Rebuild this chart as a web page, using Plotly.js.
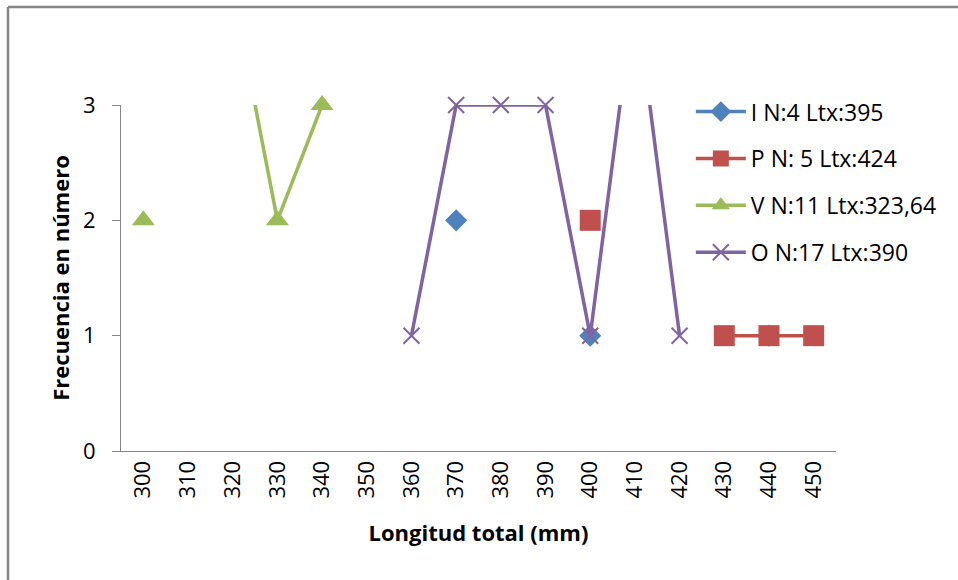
<!DOCTYPE html>
<html>
<head>
<meta charset="utf-8">
<script src="https://cdn.plot.ly/plotly-3.0.1.min.js"></script>
<style>
  html, body { margin: 0; padding: 0; background: #fff; }
  #chart { width: 958px; height: 580px; }
</style>
</head>
<body>
<div id="chart"></div>
<script>
// Length classes (mm) on the category axis
const lengths = ['300','310','320','330','340','350','360','370','380','390','400','410','420','430','440','450'];

// Frequency per length class for each group (null = no fish in that class)
const freqI = [null, null, null, null, null, null, null, 2, null, null, 1, null, null, null, 1, null];
const freqP = [null, null, null, null, null, null, null, null, null, null, 2, null, null, 1, 1, 1];
const freqV = [2, null, 4, 2, 3, null, null, null, null, null, null, null, null, null, null, null];
const freqO = [null, null, null, null, null, null, 1, 3, 3, 3, 1, 4, 1, null, null, null];

const seriesNames = ['I N:4 Ltx:395', 'P N: 5 Ltx:424', 'V N:11 Ltx:323,64', 'O N:17 Ltx:390'];

const FONT = 'Open Sans, sans-serif';
const AXIS_GRAY = '#868686';

function series(name, y, color, symbol, size, group, markerLine) {
  return {
    type: 'scatter',
    mode: 'lines+markers',
    x: lengths,
    y: y,
    name: name,
    legendgroup: group,
    connectgaps: false,
    cliponaxis: false,
    line: { color: color, width: 3.5 },
    marker: markerLine
      ? { symbol: symbol, size: size, color: color, line: { color: color, width: 2 } }
      : { symbol: symbol, size: size, color: color, line: { width: 0 } }
  };
}

const traces = [
  series(seriesNames[0], freqI, '#4F81BD', 'diamond', 17, 'g1', false),
  series(seriesNames[1], freqP, '#C0504D', 'square', 21, 'g2', false),
  series(seriesNames[2], freqV, '#9BBB59', 'triangle-up', 20, 'g3', false),
  series(seriesNames[3], freqO, '#8064A2', 'x-thin-open', 16, 'g4', true)
];

// frame around the chart area (left and top edges fall inside the view)
const frameX = (8 - 121) / 715;
const frameY = (451 - 7) / 346;

const layout = {
  width: 958,
  height: 580,
  margin: { l: 121, r: 122, t: 105, b: 129 },
  paper_bgcolor: '#ffffff',
  plot_bgcolor: '#ffffff',
  font: { family: FONT, size: 20, color: '#000000' },
  showlegend: true,
  legend: {
    x: 0.797, xanchor: 'left',
    y: 1.043, yanchor: 'top',
    bgcolor: 'rgba(0,0,0,0)',
    font: { family: FONT, size: 23, color: '#000000' },
    itemwidth: 50,
    tracegroupgap: 14,
    traceorder: 'grouped'
  },
  xaxis: {
    type: 'category',
    categoryorder: 'array',
    categoryarray: lengths,
    range: [-0.5, lengths.length - 0.5],
    tickangle: -90,
    ticks: '',
    showgrid: false,
    zeroline: false,
    showline: true,
    linecolor: AXIS_GRAY,
    linewidth: 1,
    tickfont: { family: FONT, size: 22, color: '#000000' },
    title: { text: 'Longitud total (mm)', font: { family: FONT, size: 22, color: '#000000', weight: 'bold' }, standoff: 28 }
  },
  yaxis: {
    range: [0, 3],
    tickvals: [0, 1, 2, 3],
    ticks: 'outside',
    ticklen: 8,
    tickcolor: AXIS_GRAY,
    ticklabelstandoff: 12,
    showgrid: false,
    zeroline: false,
    showline: true,
    linecolor: AXIS_GRAY,
    linewidth: 1,
    tickfont: { family: FONT, size: 22, color: '#000000' },
    title: { text: 'Frecuencia en número', font: { family: FONT, size: 22, color: '#000000', weight: 'bold' }, standoff: 7 }
  },
  shapes: [
    { type: 'line', xref: 'paper', yref: 'paper', x0: frameX, x1: frameX, y0: -1, y1: frameY, line: { color: '#878787', width: 2.5 } },
    { type: 'line', xref: 'paper', yref: 'paper', x0: frameX, x1: 2, y0: frameY, y1: frameY, line: { color: '#878787', width: 2.5 } }
  ]
};

Plotly.newPlot('chart', traces, layout, { displayModeBar: false, staticPlot: true });
</script>
</body>
</html>
